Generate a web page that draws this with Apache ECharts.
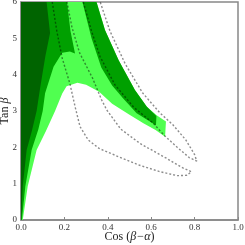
<!DOCTYPE html>
<html><head><meta charset="utf-8">
<script src="https://cdn.jsdelivr.net/npm/echarts@6/dist/echarts.min.js"></script>
<style>html,body{margin:0;padding:0;background:#fff}#c{width:245px;height:245px}</style>
</head><body><div id="c"></div>
<script>
// Tick labels
const xTickLabels = ['0.0','0.2','0.4','0.6','0.8','1.0'];
const yTickLabels = ['0','1','2','3','4','5','6'];

// Filled regions [cos(beta-alpha), tan beta]
const lightRegion = [[0,0],[0,6],[0.348,6],[0.387,5.23],[0.45,4.4],[0.525,3.58],[0.58,3.12],[0.625,2.88],[0.668,2.71],[0.664,2.29],[0.62,2.48],[0.564,2.66],[0.5,2.9],[0.42,3.2],[0.36,3.53],[0.3,3.72],[0.26,3.78],[0.21,3.68],[0.19,3.48],[0.157,3.0],[0.115,2.45],[0.072,1.93],[0.031,0.93],[0.008,0]];
const mediumLeft = [[0,0],[0,6],[0.212,6],[0.228,5.2],[0.249,4.58],[0.225,4.64],[0.19,4.6],[0.15,4.22],[0.111,3.49],[0.1,3.0],[0.08,2.5],[0.049,1.93],[0.02,0.93],[0.004,0]];
const mediumBand = [[0.283,6],[0.348,6],[0.387,5.23],[0.45,4.4],[0.525,3.58],[0.58,3.12],[0.624,2.86],[0.622,2.6],[0.594,2.71],[0.533,2.94],[0.47,3.35],[0.42,3.7],[0.37,4.2],[0.325,5.0]];
const darkRegion = [[0,0],[0,6],[0.118,6],[0.134,5.15],[0.112,4.5],[0.09,3.7],[0.072,3.0],[0.05,2.45],[0.026,1.93],[0.008,0.93],[0.001,0]];

// Dashed contours
const contourA = [[0.144,6],[0.165,5.2],[0.19,4.45],[0.225,3.76],[0.25,3.1],[0.272,2.57],[0.31,2.2],[0.36,1.97],[0.45,1.74],[0.55,1.5],[0.64,1.33],[0.72,1.22],[0.765,1.23],[0.785,1.33],[0.74,1.45],[0.67,1.7],[0.55,2.1],[0.46,2.5],[0.395,3.03],[0.372,3.3],[0.33,3.9],[0.27,4.6],[0.235,5.3],[0.212,6]];
const contourB = [[0.287,6],[0.325,5.2],[0.364,4.5],[0.433,3.72],[0.52,3.1],[0.608,2.67],[0.66,2.33],[0.72,2.0],[0.775,1.72],[0.81,1.62],[0.8,1.8],[0.76,2.2],[0.70,2.62],[0.64,2.95],[0.56,3.5],[0.48,4.3],[0.41,5.2],[0.365,6]];

const cGreen = ['#50ff50','#00a000','#006400'];

function polySeries(points, color) {
  return {
    type: 'custom', coordinateSystem: 'cartesian2d', silent: true, z: 1,
    data: [[points[0][0], points[0][1]]],
    renderItem: function (params, api) {
      const pts = points.map(p => api.coord(p));
      return {type: 'polygon', shape: {points: pts}, style: {fill: color, stroke: null}};
    },
    clip: true
  };
}
function dashSeries(points) {
  return {
    type: 'line', data: points, showSymbol: false, silent: true, z: 3,
    lineStyle: {color: 'rgba(0,0,0,0.45)', width: 1.4, type: [2, 2]}, clip: true
  };
}
const nameRich = {n: {fontFamily: 'Liberation Serif', fontSize: 12, color: '#222'}, i: {fontFamily: 'Liberation Serif', fontStyle: 'italic', fontSize: 12, color: '#222'}};
const chart = echarts.init(document.getElementById('c'), null, {renderer: 'canvas'});
chart.setOption({
  animation: false,
  grid: {left: 21, right: 7, top: 2, bottom: 25, containLabel: false, outerBoundsMode: 'none', show: true, borderColor: '#888', borderWidth: 1.5, backgroundColor: 'transparent'},
  xAxis: {
    type: 'value', min: 0, max: 1, interval: 0.2,
    name: '{n|Cos (}{i|β−α}{n|)}', nameLocation: 'middle', nameGap: 11, nameMoveOverlap: false,
    nameTextStyle: {rich: nameRich},
    axisLine: {show: true, lineStyle: {color: '#888', width: 1.5}},
    axisTick: {show: true, inside: true, length: 3, lineStyle: {color: '#888'}},
    splitLine: {show: false},
    axisLabel: {fontFamily: 'Liberation Serif', fontSize: 9, color: '#333', margin: 3,
      formatter: v => xTickLabels[Math.round(v / 0.2)]}
  },
  yAxis: {
    type: 'value', min: 0, max: 6, interval: 1,
    name: '{n|Tan }{i|β}', nameLocation: 'middle', nameGap: 10, nameRotate: 90, nameMoveOverlap: false,
    nameTextStyle: {rich: nameRich},
    axisLine: {show: true, lineStyle: {color: '#888', width: 1.5}},
    axisTick: {show: true, inside: true, length: 3, lineStyle: {color: '#888'}},
    splitLine: {show: false},
    axisLabel: {fontFamily: 'Liberation Serif', fontSize: 9, color: '#333', margin: 4,
      formatter: v => yTickLabels[Math.round(v)]}
  },
  series: [
    polySeries(lightRegion, cGreen[0]),
    polySeries(mediumLeft, cGreen[1]),
    polySeries(mediumBand, cGreen[1]),
    polySeries(darkRegion, cGreen[2]),
    dashSeries(contourA),
    dashSeries(contourB)
  ]
});
</script></body></html>
